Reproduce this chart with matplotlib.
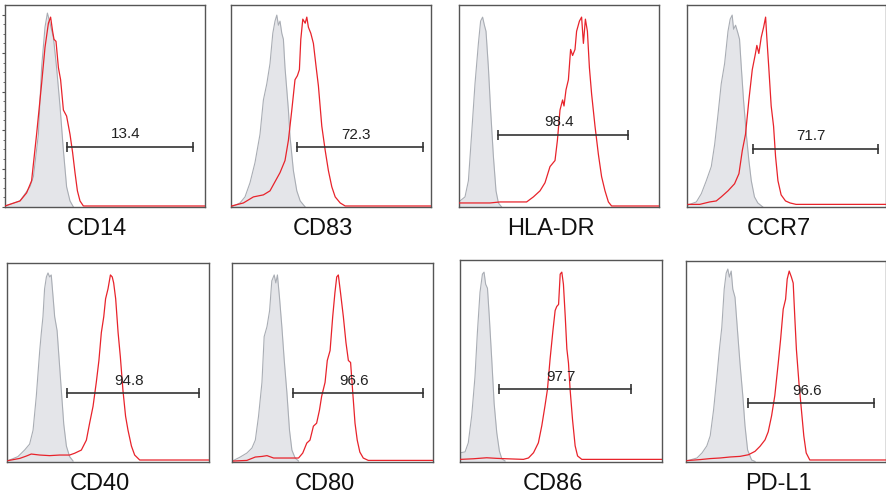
import matplotlib
matplotlib.use("Agg")
import matplotlib.pyplot as plt
import numpy as np

plt.rcParams['font.family'] = ['Liberation Sans', 'DejaVu Sans']

# x: position along the (log) fluorescence axis, 0-100; y: % of panel height
markers = ["CD14", "CD83", "HLA-DR", "CCR7", "CD40", "CD80", "CD86", "PD-L1"]
gate_pct = ["13.4", "72.3", "98.4", "71.7", "94.8", "96.6", "97.7", "96.6"]
gate_lo = [31.2, 33.2, 19.7, 33.1, 29.9, 30.2, 19.5, 30.8]
gate_hi = [93.8, 96.0, 84.7, 96.0, 94.9, 95.0, 84.6, 94.2]
gate_y = [29.8, 29.5, 35.8, 28.9, 34.6, 34.6, 35.9, 29.3]

# isotype control (grey) and stained sample (red)
cd14_iso_x = [0, 3, 7.5, 12.5, 14.2, 16.7, 18.3, 20, 21.2, 22.5, 24.2, 25.8, 27.5, 29.2, 30.8, 32.5, 34.2]
cd14_iso_y = [0.5, 1.5, 3, 10, 15, 36, 69, 89, 96, 91, 84, 69, 50, 28, 10, 3, 0]
cd14_x = [0, 7.5, 10.8, 13.3, 15.8, 18.3, 20, 21.7, 22.8, 23.8, 24.5, 25.5, 26.7, 27.8, 29.2, 30.8,
          32.5, 33.8, 35, 36.2, 37.5, 39.2, 100]
cd14_y = [0.5, 3, 7, 13, 36, 61, 79, 91, 94, 87, 83, 82, 69, 63, 48, 45, 36, 27, 17, 8, 3, 0.5, 0.5]

cd83_iso_x = [0, 1.2, 4.5, 7, 9.5, 12, 14.5, 16.2, 17.9, 19.5, 20.9, 22, 22.9, 23.7, 24.5, 25.4, 26.2,
              27, 27.9, 28.7, 29.5, 31.2, 32.9, 34.6, 37.1]
cd83_iso_y = [0, 0.5, 2, 5, 12, 22, 36, 53, 61, 71, 86, 92, 95, 90, 92, 86, 83, 69, 58, 48, 35, 18, 8, 3, 0]
cd83_x = [0.3, 6.2, 11.2, 16.2, 19.5, 22, 24.5, 27, 28.7, 30.4, 32, 33.2, 34.2, 34.9, 35.9, 37.1, 37.9,
          38.7, 39.9, 41.2, 42.6, 43.7, 45.4, 47.1, 48.7, 50.4, 52.1, 54.6, 57.1, 100]
cd83_y = [0.5, 2, 5, 6, 8, 12.5, 17, 23, 33, 48, 63, 65, 68, 83, 93, 91, 94, 89, 86, 81, 69, 60, 40,
          28, 18, 10, 5, 2, 0.5, 0.5]

hladr_iso_x = [0, 0.5, 3, 4.7, 6.3, 8, 9.7, 10.8, 11.8, 12.7, 13.5, 14.7, 15.8, 17.2, 18.5, 19.7, 21.3]
hladr_iso_y = [3, 3, 5, 13, 36, 61, 81, 92, 94, 90, 87, 69, 48, 25, 8, 2, 0]
hladr_x = [0, 7.2, 15.5, 20.5, 27.2, 33.8, 37.2, 40.5, 43, 45.5, 48, 49.2, 50.5, 51.8, 52.5, 53.5,
           54.7, 55.8, 56.8, 58, 58.8, 60.2, 61.3, 62.2, 63.2, 64.2, 65.2, 66.3, 68, 69.7, 71.3, 73,
           74.7, 76.3, 100]
hladr_y = [2, 2, 2, 2.5, 2.5, 2.5, 5, 8, 12, 20, 23, 33, 48, 53, 50, 58, 63, 78, 75, 78, 87, 92, 94,
           81, 93, 87, 69, 56, 40, 26, 15, 8, 2.5, 0.5, 0.5]

ccr7_iso_x = [0, 1.3, 4.7, 7.2, 9.7, 12.2, 13.9, 15.6, 17.2, 18.9, 20.6, 21.7, 22.7, 23.4, 24.4, 25.6,
              26.4, 27.3, 28.4, 29.8, 31.1, 32.3, 33.9, 35.6, 38.1]
ccr7_iso_y = [0.5, 1.3, 2.5, 6.6, 13, 20, 31, 46, 61, 71, 87, 93, 95, 88, 90, 86, 83, 69, 53, 36, 23,
              13, 5, 2, 0]
ccr7_x = [0.5, 6.4, 11.4, 14.7, 17.2, 20.6, 23.9, 26.1, 27.8, 29.4, 31.1, 32.8, 34.4, 35.1, 36.1, 37.3,
          38.5, 39.5, 40.1, 41.1, 42.3, 43.5, 44.5, 45.7, 47.3, 49.5, 51.8, 54.8, 100]
ccr7_y = [1.3, 1.3, 2.5, 3, 5, 8, 11.5, 16.5, 28, 36, 53, 68, 76, 80, 76, 84, 89, 94, 84, 69, 50, 40,
          25, 13, 6, 3, 2, 1.3, 1.3]

cd40_iso_x = [0, 1.3, 5.4, 8.7, 11.2, 12.9, 14.5, 16.2, 17, 17.8, 18.6, 19.5, 20.3, 21.1, 21.9, 22.8,
              23.6, 24.8, 25.7, 26.9, 28.1, 29.4, 31, 32.7]
cd40_iso_y = [0.5, 1, 2.7, 6, 9, 16, 33, 56, 65, 73, 87, 93, 95, 93, 94, 83, 73, 66, 53, 36, 19, 8,
              2.7, 0.5]
cd40_x = [0.5, 6.3, 9.6, 12, 16.2, 21.1, 26.1, 31, 33.5, 36.8, 39.3, 40.9, 42.6, 44.2, 45.5, 46.7,
          47.9, 48.8, 50, 51.2, 52.1, 52.8, 53.8, 55, 56.1, 57.4, 58.7, 59.9, 61.6, 63.2, 65.7, 100]
cd40_y = [0.7, 1.8, 3, 4, 3.5, 3.2, 3.5, 3.5, 4.4, 6, 11, 19.5, 28, 40, 51, 65, 73, 82, 87, 94, 93,
          90, 82, 65, 53, 36, 23, 16, 8, 3.5, 1, 1]

cd80_iso_x = [0, 0.8, 4.1, 7.4, 9.9, 11.6, 13.2, 14.9, 16, 17.4, 18.7, 19.8, 21, 21.8, 22.6, 23.6,
              24.8, 26, 27.3, 28.6, 29.8, 31.4, 33.1]
cd80_iso_y = [0.5, 0.8, 2.5, 4.5, 7, 11, 23, 40, 63, 68, 76, 91, 94, 90, 94, 83, 68, 51, 35, 16, 6,
              2, 0.5]
cd80_x = [0.8, 7.4, 11.6, 14.9, 17.4, 20.7, 25.6, 30.6, 33.1, 35.2, 37.2, 38.8, 40.5, 42.1, 43.5, 44.6,
          46.3, 47.4, 48.8, 50.1, 51.2, 52.1, 52.9, 54, 55.4, 56.7, 57.9, 59, 60, 61.2, 62.3, 63.6,
          65.3, 67.8, 100]
cd80_y = [0.5, 0.8, 2.5, 2.8, 3.2, 2, 2, 2, 2, 4.5, 9.5, 11, 18, 19.5, 26, 33, 40, 51, 56, 73, 85,
          93, 94, 85, 73, 60, 51, 50, 36, 19.5, 11, 5, 2, 0.8, 0.8]

cd86_iso_x = [0, 0.3, 2.5, 4.1, 5.8, 7.4, 8.6, 9.9, 11.1, 11.9, 12.7, 13.6, 14.5, 15.7, 16.9, 18.2,
              19.5, 20.7, 22.3]
cd86_iso_y = [4.6, 4.6, 5, 9.5, 23, 42, 64, 84, 93, 94, 88, 86, 72, 51, 29, 14.5, 5.4, 1.6, 0.5]
cd86_x = [0.3, 6.6, 13.2, 18.2, 23.1, 31.4, 33.9, 36.4, 38.8, 40.5, 42.1, 43.3, 44.6, 46, 47.1, 47.9,
          48.8, 49.6, 50.4, 51.2, 52.1, 52.9, 53.7, 54.5, 55.7, 57, 58.2, 60.3, 100]
cd86_y = [1.3, 1.6, 2.1, 1.8, 1.6, 1.3, 2, 4.6, 9.5, 18, 28, 36, 51, 65, 75, 77, 78, 93, 94, 88, 72,
          56, 49, 36, 21, 8, 3, 1.3, 1.3]

pdl1_iso_x = [0, 1.3, 5.5, 8, 10.4, 12.1, 13.8, 15.4, 16.7, 17.9, 19.1, 20.1, 20.9, 21.7, 22.6, 23.4,
              24.5, 25.7, 27, 28.4, 29.5, 30.8, 32.8, 34.5]
pdl1_iso_y = [0.5, 0.8, 2, 4.5, 8, 13, 26, 42, 56, 67, 86, 94, 96, 92, 95, 86, 82, 66, 49, 33, 18, 6,
              1, 0.3]
pdl1_x = [0.5, 7.1, 12.1, 17.1, 22.1, 27, 31.2, 34.5, 37, 39.5, 41.1, 42.8, 44.4, 46.1, 47.3, 48.6,
          49.8, 50.6, 51.6, 52.7, 53.6, 54.4, 55.2, 56.5, 57.7, 58.9, 60.1, 61.9, 100]
pdl1_y = [0.7, 1.2, 1.7, 2, 2.5, 2.8, 3.6, 5.3, 7.8, 11, 15, 23, 33, 49, 61, 76, 81, 91, 95, 92, 89,
          72, 56, 39, 26, 13, 4.5, 1, 1]

iso_curves = [(cd14_iso_x, cd14_iso_y), (cd83_iso_x, cd83_iso_y), (hladr_iso_x, hladr_iso_y),
              (ccr7_iso_x, ccr7_iso_y), (cd40_iso_x, cd40_iso_y), (cd80_iso_x, cd80_iso_y),
              (cd86_iso_x, cd86_iso_y), (pdl1_iso_x, pdl1_iso_y)]
stain_curves = [(cd14_x, cd14_y), (cd83_x, cd83_y), (hladr_x, hladr_y), (ccr7_x, ccr7_y),
                (cd40_x, cd40_y), (cd80_x, cd80_y), (cd86_x, cd86_y), (pdl1_x, pdl1_y)]

# panel boxes in pixels: left, top, width, height
W, H = 887, 499
boxes = [(5, 5, 200, 202), (231, 5, 200, 202), (459, 5, 200, 202), (687, 5, 199, 202),
         (7, 263, 202, 199), (232, 263, 201, 199), (460, 260, 202, 202), (686, 261, 200, 201)]

RED = '#e8232b'
GREY_FILL = '#e4e5e9'
GREY_EDGE = '#a9adb4'
DARK = '#333333'

fig = plt.figure(figsize=(W / 100, H / 100), dpi=100)

for i, name in enumerate(markers):
    l, t, w, h = boxes[i]
    ax = fig.add_axes([l / W, (H - t - h) / H, w / W, h / H])
    ix, iy = iso_curves[i]
    sx, sy = stain_curves[i]

    ax.fill_between(ix, iy, 0, color=GREY_FILL, lw=0, zorder=1)
    ax.plot(ix, iy, color=GREY_EDGE, lw=0.8, zorder=2)
    ax.plot(sx, sy, color=RED, lw=0.9, zorder=3)

    # gate bar
    ax.plot([gate_lo[i], gate_hi[i]], [gate_y[i], gate_y[i]], color=DARK, lw=1.2,
            marker='|', markersize=7, markeredgewidth=1.2, zorder=4)
    ax.annotate(gate_pct[i], xy=((gate_lo[i] + gate_hi[i]) / 2, gate_y[i]),
                xytext=(-3, 4), textcoords='offset points', ha='center', va='bottom',
                fontsize=11, color='#222222', zorder=5)

    ax.set_xlim(0, 100)
    ax.set_ylim(0, 100)
    for sp in ax.spines.values():
        sp.set_color('#555555')
        sp.set_linewidth(1.0)
    ax.set_xticks([])
    if i == 0:
        ax.set_yticks(np.linspace(0, 95.25, 6))
        ax.set_yticks(np.arange(0, 96, 4.7625), minor=True)
        ax.tick_params(axis='y', which='major', direction='out', length=2.5, width=0.8,
                       color='#555555', labelleft=False)
        ax.tick_params(axis='y', which='minor', direction='out', length=1.3, width=0.6,
                       color='#555555')
    else:
        ax.set_yticks([])

    ax.text(0.46, -0.11, name, transform=ax.transAxes, ha='center', va='center',
            fontsize=17, color='#111111')

fig.savefig('out.png', dpi=100)
